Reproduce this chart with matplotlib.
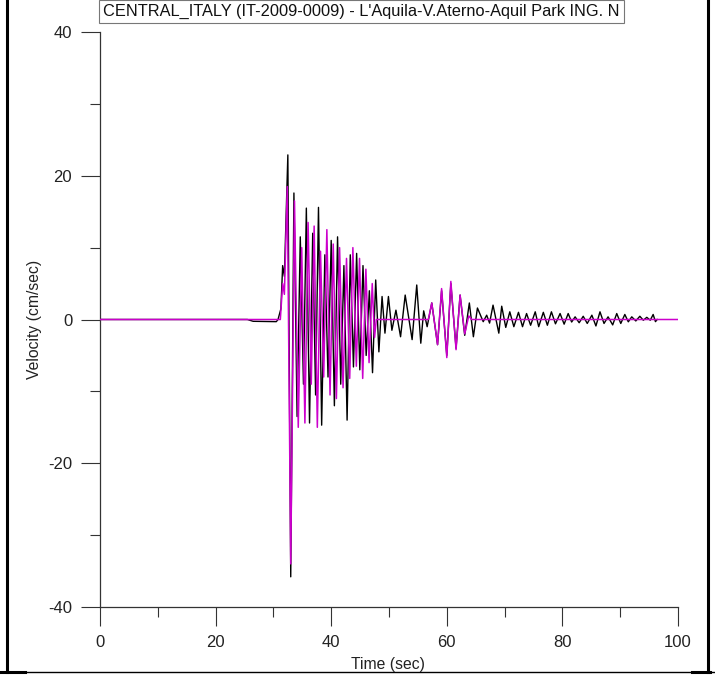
import matplotlib
matplotlib.use("Agg")
import matplotlib.pyplot as plt
from matplotlib.lines import Line2D

plt.rcParams['font.family'] = ['Liberation Sans', 'DejaVu Sans']
plt.rcParams['axes.unicode_minus'] = False

title = "CENTRAL_ITALY (IT-2009-0009) - L'Aquila-V.Aterno-Aquil Park ING. N"
xlabel = "Time (sec)"
ylabel = "Velocity (cm/sec)"
x_ticks = [0, 20, 40, 60, 80, 100]
y_ticks = [-40, -20, 0, 20, 40]

# Black trace (extremes): time (s), velocity (cm/s)
black_t = [0, 25.5, 26.5, 30.5, 30.8, 31.3, 31.6, 31.9, 32.5, 33.0, 33.55, 34.1, 34.65, 35.2,
           35.7, 36.25, 36.8, 37.3, 37.8, 38.35, 38.9, 39.45, 40.0, 40.55, 41.1, 41.65,
           42.2, 42.75, 43.3, 43.85, 44.4, 44.95, 45.5, 46.05, 46.6, 47.15, 47.7, 48.25,
           48.8, 49.3, 49.9, 50.5, 51.2, 52.0,
           52.8, 54.0, 54.8, 55.5, 56.0, 56.6, 57.4, 58.4, 59.1, 60.0, 60.7, 61.6, 62.3,
           63.1, 63.9, 64.6, 65.3, 66.3, 66.9, 67.4, 68.0, 69.0, 69.5, 70.2, 70.9, 71.6,
           72.4, 73.1, 73.8, 74.5, 75.3, 75.9, 76.7, 77.4, 78.1, 78.8, 79.6, 80.3, 81.0,
           81.6, 82.2, 82.9, 83.6, 84.3, 85.1, 85.8, 86.5, 87.2, 87.9, 88.7, 89.4, 90.1,
           90.8, 91.4, 92.0, 92.7, 93.4, 94.0, 94.6, 95.2, 95.7, 96.1, 96.4]
black_v = [0, 0, -0.25, -0.3, 0.0, 1.5, 7.5, 6.0, 22.9, -35.8, 17.6, -13.5, 11.5, -9.0,
           15.5, -14.4, 12.0, -10.5, 15.6, -14.7, 9.0, -8.0, 11.0, -12.0, 11.5, -9.0,
           7.5, -14.0, 9.0, -6.6, 9.2, -7.0, 7.5, -5.0, 4.0, -7.4, 5.5, -4.5,
           3.2, -1.9, 3.2, -1.5, 1.3, -2.4,
           3.4, -2.8, 4.8, -3.3, 1.2, -1.0, 2.3, -3.5, 4.0, -5.0, 5.0, -4.0, 3.4,
           -2.2, 2.3, -2.4, 1.6, -0.3, 0.6, -0.5, 2.0, -1.9, 1.85, -1.1, 1.07, -1.0,
           1.0, -1.0, 0.83, -0.8, 1.07, -1.0, 1.0, -0.8, 1.07, -0.6, 0.83, -0.65, 0.83,
           -0.35, 0.37, -0.45, 0.45, -0.55, 0.6, -0.9, 1.07, -0.55, 0.37, -0.75, 0.83, -0.55,
           0.7, -0.32, 0.37, -0.2, 0.45, -0.1, 0.3, -0.1, 0.7, -0.3, 0.0]

# Magenta trace
mag_t = [0, 31.2, 31.6, 31.9, 32.4, 33.0, 33.65, 34.3, 34.9, 35.45, 36.0, 36.55, 37.05, 37.6,
         38.15, 38.7, 39.25, 39.8, 40.35, 40.9, 41.45, 42.05, 42.65, 43.2, 43.75, 44.35,
         44.9, 45.45, 46.0, 46.55, 47.1, 47.5, 47.8,
         56.8, 57.4, 58.4, 59.1, 60.0, 60.7, 61.6, 62.3, 63.1, 63.8, 64.3, 100]
mag_v = [0, 0, 5.0, 3.5, 18.5, -34.0, 16.5, -15.0, 10.0, -14.4, 13.5, -9.0, 13.0, -15.0,
         9.5, -8.0, 12.5, -10.5, 10.5, -11.0, 10.0, -9.5, 8.5, -8.2, 10.0, -6.5,
         8.5, -8.2, 7.0, -6.0, 5.0, -2.5, 0.0,
         0.0, 2.3, -3.5, 4.3, -5.3, 5.3, -4.2, 3.4, -2.0, 0.5, 0.0, 0.0]

W, H = 715, 675
fig = plt.figure(figsize=(W / 100, H / 100), dpi=100)
ax = fig.add_axes([100 / W, 1 - 607 / H, 578 / W, 575 / H])

ax.plot(black_t, black_v, color='black', lw=1.0, zorder=2)
ax.plot(mag_t, mag_v, color='#cc00cc', lw=1.1, zorder=3)

ax.set_xlim(0, 100)
ax.set_ylim(-40, 40)
ax.set_xticks(x_ticks)
ax.set_yticks(y_ticks)
ax.set_xticks([10, 30, 50, 70, 90], minor=True)
ax.set_yticks([-30, -10, 10, 30], minor=True)
for s in ['top', 'right']:
    ax.spines[s].set_visible(False)
for s in ['left', 'bottom']:
    ax.spines[s].set_color('#333333')
    ax.spines[s].set_linewidth(0.9)
ax.tick_params(axis='both', which='major', direction='out', length=14, width=0.8,
               color='#333333', labelsize=12, labelcolor='#222222')
ax.tick_params(axis='both', which='minor', direction='out', length=7, width=0.8, color='#333333')
ax.tick_params(axis='x', which='major', pad=6)
ax.tick_params(axis='y', which='major', pad=6)

fig.text(103 / W, 1 - 16 / H, title, fontsize=11.8, ha='left', va='baseline', color='#111111',
         bbox=dict(boxstyle='square,pad=0.25', fc='white', ec='#777777', lw=0.8))
fig.text(388 / W, 1 - 664 / H, xlabel, fontsize=11.3, ha='center', va='center', color='#222222')
fig.text(35 / W, 1 - 319 / H, ylabel, fontsize=11.3, ha='center', va='center',
         rotation=90, color='#222222')

# figure frame lines
fig.add_artist(Line2D([7 / W, 7 / W], [3 / H, 1], transform=fig.transFigure, color='black', lw=2.2))
fig.add_artist(Line2D([708 / W, 708 / W], [3 / H, 1], transform=fig.transFigure, color='black', lw=2.2))
fig.add_artist(Line2D([0, 1], [3 / H, 3 / H], transform=fig.transFigure, color='black', lw=1.0))
fig.add_artist(Line2D([0, 25 / W], [3 / H, 3 / H], transform=fig.transFigure, color='black', lw=2.2))
fig.add_artist(Line2D([692 / W, 710 / W], [3 / H, 3 / H], transform=fig.transFigure, color='black', lw=2.2))

fig.savefig('out.png', dpi=100)
